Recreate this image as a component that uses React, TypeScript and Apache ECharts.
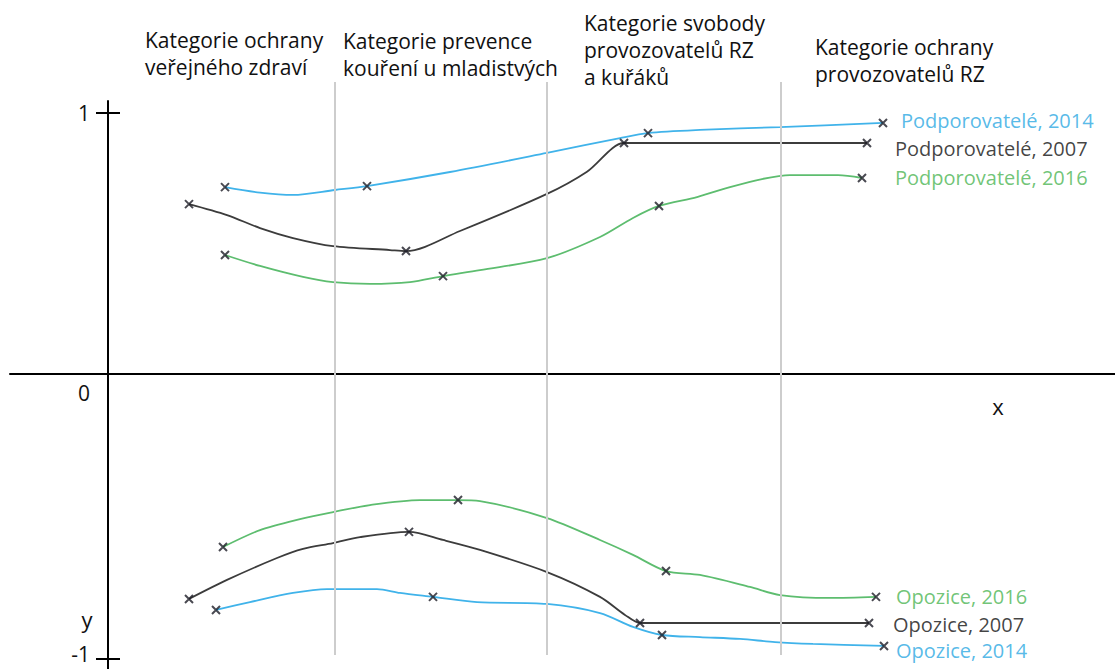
import React, { useEffect, useRef } from "react";
import * as echarts from "echarts";

const FONT = "'Open Sans', Lato, sans-serif";
const FS = 21;
const FS_LABEL = 20;

// Category headings (regions between the grey dividers)
const categoryLabels = [
  "Kategorie ochrany\nveřejného zdraví",
  "Kategorie prevence\nkouření u mladistvých",
  "Kategorie svobody\nprovozovatelů RZ\na kuřáků",
  "Kategorie ochrany\nprovozovatelů RZ",
];
const categoryBounds = [22.7, 43.9, 67.3];

// y axis ticks / labels
const yTickValues = [1, -1.092];
const yLabelValues = [1, 0, -1.092];
const yLabelTexts = ["1", "0", "-1"];

// Podporovatelé, 2014
const supp2014LineX = [11.7, 15.2, 18.5, 22.7, 25.9, 34.2, 43.9, 51.2, 54.0, 59.2, 67.2, 77.5];
const supp2014LineY = [0.716, 0.695, 0.686, 0.705, 0.72, 0.774, 0.847, 0.904, 0.923, 0.935, 0.946, 0.962];
const supp2014MarkX = [11.7, 25.9, 54.0, 77.5];
const supp2014MarkY = [0.716, 0.72, 0.923, 0.962];

// Podporovatelé, 2007
const supp2007LineX = [8.1, 11.9, 15.2, 18.5, 22.5, 28.2, 29.8, 35.2, 43.9, 47.9, 51.6, 53.5, 75.9];
const supp2007LineY = [0.651, 0.609, 0.559, 0.521, 0.49, 0.475, 0.471, 0.548, 0.69, 0.775, 0.885, 0.885, 0.885];
const supp2007MarkX = [8.1, 29.8, 51.6, 75.9];
const supp2007MarkY = [0.651, 0.471, 0.885, 0.885];

// Podporovatelé, 2016
const supp2016LineX = [11.7, 15.2, 19.5, 22.5, 26.2, 30.2, 33.5, 37.2, 43.9, 49.2, 52.5, 55.1, 58.9, 62.2, 65.4, 68.2, 73.0, 75.4];
const supp2016LineY = [0.456, 0.414, 0.372, 0.352, 0.345, 0.352, 0.375, 0.398, 0.444, 0.525, 0.598, 0.644, 0.678, 0.716, 0.747, 0.762, 0.762, 0.751];
const supp2016MarkX = [11.7, 33.5, 55.1, 75.4];
const supp2016MarkY = [0.456, 0.375, 0.644, 0.751];

// Opozice, 2016
const opp2016LineX = [11.5, 15.2, 19.2, 22.5, 26.2, 31.2, 35.0, 37.2, 43.9, 49.2, 52.5, 55.8, 59.2, 64.2, 67.2, 72.2, 76.8];
const opp2016LineY = [-0.663, -0.598, -0.556, -0.529, -0.502, -0.483, -0.483, -0.487, -0.552, -0.636, -0.693, -0.755, -0.77, -0.816, -0.847, -0.858, -0.854];
const opp2016MarkX = [11.5, 35.0, 55.8, 76.8];
const opp2016MarkY = [-0.663, -0.483, -0.755, -0.854];

// Opozice, 2007
const opp2007LineX = [8.1, 11.9, 16.9, 19.5, 22.5, 25.2, 30.1, 33.5, 37.2, 43.9, 49.2, 51.7, 53.2, 55.0, 76.1];
const opp2007LineY = [-0.862, -0.789, -0.705, -0.67, -0.648, -0.625, -0.605, -0.636, -0.674, -0.759, -0.854, -0.923, -0.954, -0.954, -0.954];
const opp2007MarkX = [8.1, 30.1, 53.2, 76.1];
const opp2007MarkY = [-0.862, -0.605, -0.954, -0.954];

// Opozice, 2014
const opp2014LineX = [10.8, 14.2, 18.5, 21.9, 26.9, 29.2, 32.5, 36.9, 43.9, 49.2, 52.5, 55.4, 59.2, 63.2, 66.7, 70.5, 77.6];
const opp2014LineY = [-0.904, -0.874, -0.839, -0.824, -0.824, -0.839, -0.854, -0.874, -0.881, -0.916, -0.969, -1.0, -1.008, -1.015, -1.027, -1.034, -1.042];
const opp2014MarkX = [10.8, 32.5, 55.4, 77.6];
const opp2014MarkY = [-0.904, -0.854, -1.0, -1.042];

// axis extents (x: 10 px per unit; y: 261 px per unit)
const X_MIN_FULL = -9.8;
const X_MAX = 100.7;
const Y_MIN = -1.1303;
const Y_MAX = 1.046;
const Y2_MIN = -1.0766;
const Y2_MAX = 1.1188;

const BLUE = "#40b3ea";
const GREEN = "#5dbd6f";
const BLACK = "#3c3c3c";
const BLUE_TEXT = "#2ca8e2";
const GREEN_TEXT = "#4cb553";
const BLACK_TEXT = "#111111";

const CROSS = "path://M0,0L10,10M10,0L0,10";

const zip = (xs: number[], ys: number[]) => xs.map((x, i) => [x, ys[i]]);

const SERIES = [
  { name: "Podporovatelé, 2014", lx: supp2014LineX, ly: supp2014LineY, mx: supp2014MarkX, my: supp2014MarkY, color: BLUE, text: BLUE_TEXT, off: [13, -2] },
  { name: "Podporovatelé, 2007", lx: supp2007LineX, ly: supp2007LineY, mx: supp2007MarkX, my: supp2007MarkY, color: BLACK, text: BLACK_TEXT, off: [23, 5] },
  { name: "Podporovatelé, 2016", lx: supp2016LineX, ly: supp2016LineY, mx: supp2016MarkX, my: supp2016MarkY, color: GREEN, text: GREEN_TEXT, off: [28, 0] },
  { name: "Opozice, 2016", lx: opp2016LineX, ly: opp2016LineY, mx: opp2016MarkX, my: opp2016MarkY, color: GREEN, text: GREEN_TEXT, off: [15, 0] },
  { name: "Opozice, 2007", lx: opp2007LineX, ly: opp2007LineY, mx: opp2007MarkX, my: opp2007MarkY, color: BLACK, text: BLACK_TEXT, off: [19, 2] },
  { name: "Opozice, 2014", lx: opp2014LineX, ly: opp2014LineY, mx: opp2014MarkX, my: opp2014MarkY, color: BLUE, text: BLUE_TEXT, off: [7, 5] },
];

const HEADER_POS = [
  [145, 26],
  [343, 27],
  [584, 9],
  [815, 33],
];

export default function App() {
  const ref = useRef<HTMLDivElement>(null);

  useEffect(() => {
    if (!ref.current) return;
    const chart = echarts.init(ref.current, undefined, { renderer: "svg" });

    const labelFor = (v: number) => {
      let best = 0;
      let bd = Infinity;
      yLabelValues.forEach((t, i) => {
        const d = Math.abs(t - v);
        if (d < bd) {
          bd = d;
          best = i;
        }
      });
      const txt = yLabelTexts[best];
      if (yLabelValues[best] === 0) return `{z|${txt}}`;
      if (yLabelValues[best] < 0) return `{m|${txt}}`;
      return txt;
    };

    const series: any[] = [];
    // grey category dividers (on the full-width frame grid)
    series.push({
      type: "line",
      xAxisIndex: 1,
      yAxisIndex: 2,
      data: [],
      silent: true,
      z: 1,
      markLine: {
        silent: true,
        symbol: ["none", "none"],
        label: { show: false },
        lineStyle: { color: "#cdcdcd", width: 2, type: "solid" },
        data: categoryBounds.map((v) => ({ xAxis: v })),
      },
    });

    SERIES.forEach((s) => {
      series.push({
        name: s.name,
        type: "line",
        xAxisIndex: 0,
        yAxisIndex: 0,
        smooth: 0.3,
        symbol: "none",
        lineStyle: { color: s.color, width: 1.8 },
        data: zip(s.lx, s.ly),
        z: 3,
      });
      const marks = zip(s.mx, s.my).map((p, i, arr) => {
        const item: any = { value: p };
        if (i === arr.length - 1) {
          item.label = {
            show: true,
            position: "right",
            distance: 0,
            offset: s.off,
            formatter: s.name,
            color: s.text,
            fontSize: FS_LABEL,
            lineHeight: 22,
            fontFamily: FONT,
          };
        }
        return item;
      });
      series.push({
        name: s.name + " body",
        type: "scatter",
        xAxisIndex: 0,
        yAxisIndex: 0,
        symbol: CROSS,
        symbolSize: 8,
        itemStyle: { color: "rgba(0,0,0,0)", borderColor: "#1c1c26", borderWidth: 2 },
        data: marks,
        z: 4,
      });
    });

    const graphic: any[] = categoryLabels.map((t, i) => ({
      type: "text",
      left: HEADER_POS[i][0],
      top: HEADER_POS[i][1],
      style: { text: t, font: `${FS}px ${FONT}`, lineHeight: 27, fill: "#111" },
    }));
    graphic.push({
      type: "text",
      x: 998,
      y: 406,
      style: { text: "x", font: `22px ${FONT}`, fill: "#111", textAlign: "center", textVerticalAlign: "middle" },
    });
    graphic.push({
      type: "text",
      x: 87,
      y: 619,
      style: { text: "y", font: `22px ${FONT}`, fill: "#111", textAlign: "center", textVerticalAlign: "middle" },
    });

    const option: any = {
      animation: false,
      backgroundColor: "#ffffff",
      grid: [
        // plotting grid: its left edge is x = 0, where the y axis stands
        { left: 108, right: 0, top: 101, bottom: 0, containLabel: false, outerBoundsMode: "none" },
        // frame grid: carries the full-width x axis line and the dividers
        { left: 10, right: 0, top: 82, bottom: 14, containLabel: false, outerBoundsMode: "none" },
      ],
      xAxis: [
        { type: "value", gridIndex: 0, min: 0, max: X_MAX, show: false },
        {
          type: "value",
          gridIndex: 1,
          min: X_MIN_FULL,
          max: X_MAX,
          axisLine: { show: true, onZero: true, lineStyle: { color: "#000", width: 2 } },
          axisTick: { show: false },
          axisLabel: { show: false },
          splitLine: { show: false },
        },
      ],
      yAxis: [
        {
          type: "value",
          gridIndex: 0,
          position: "left",
          min: Y_MIN,
          max: Y_MAX,
          axisLine: { show: true, onZero: false, lineStyle: { color: "#000", width: 2 } },
          axisTick: { show: true, length: 12, customValues: yTickValues, lineStyle: { color: "#000", width: 2 } },
          axisLabel: {
            show: true,
            customValues: yLabelValues,
            formatter: labelFor,
            margin: 18,
            color: "#111",
            fontSize: FS,
            lineHeight: 20,
            fontFamily: FONT,
            rich: {
              z: { padding: [38, 0, 0, 0], lineHeight: 20, fontSize: FS, fontFamily: FONT, color: "#111" },
              m: { padding: [0, 0, 10, 0], lineHeight: 20, fontSize: FS, fontFamily: FONT, color: "#111" },
            },
          },
          splitLine: { show: false },
        },
        {
          type: "value",
          gridIndex: 0,
          position: "left",
          min: Y_MIN,
          max: Y_MAX,
          axisLine: { show: false, onZero: false },
          axisTick: { show: true, inside: true, length: 12, customValues: yTickValues, lineStyle: { color: "#000", width: 2 } },
          axisLabel: { show: false },
          splitLine: { show: false },
        },
        {
          type: "value",
          gridIndex: 1,
          min: Y2_MIN,
          max: Y2_MAX,
          axisLine: { show: false },
          axisTick: { show: false },
          axisLabel: { show: false },
          splitLine: { show: false },
        },
      ],
      graphic,
      series,
    };

    chart.setOption(option);
    return () => chart.dispose();
  }, []);

  return (
    <div
      ref={ref}
      style={{ position: "fixed", left: 0, top: 0, width: 1115, height: 669, background: "#fff" }}
    />
  );
}
